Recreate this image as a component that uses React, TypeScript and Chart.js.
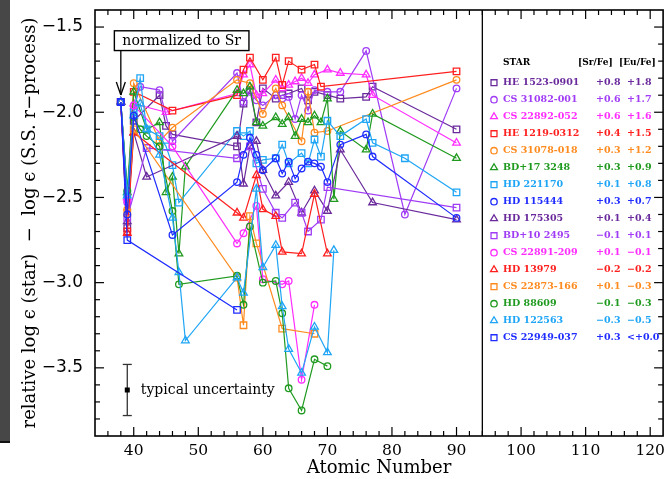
import React, { useEffect, useRef } from 'react';
import { Chart, registerables } from 'chart.js';

Chart.register(...registerables);

// ---------- data ----------
const stars = [
  'HE 1523-0901', 'CS 31082-001', 'CS 22892-052', 'HE 1219-0312', 'CS 31078-018',
  'BD+17 3248', 'HD 221170', 'HD 115444', 'HD 175305', 'BD+10 2495',
  'CS 22891-209', 'HD 13979', 'CS 22873-166', 'HD 88609', 'HD 122563', 'CS 22949-037',
];
const srFe = ['+0.8', '+0.6', '+0.6', '+0.4', '+0.3', '+0.3', '+0.1', '+0.3', '+0.1', '\u22120.1', '+0.1', '\u22120.2', '+0.1', '\u22120.1', '\u22120.3', '+0.3'];
const euFe = ['+1.8', '+1.7', '+1.6', '+1.5', '+1.2', '+0.9', '+0.8', '+0.7', '+0.4', '+0.1', '\u22120.1', '\u22120.2', '\u22120.3', '\u22120.3', '\u22120.5', '<+0.0'];

// [atomic number, relative log eps]
const HE1523_0901 = [[38,-1.94],[39,-2.68],[40,-2.05],[44,-1.9],[45,-2.08],[46,-2.13],[56,-2.2],[57,-1.95],[58,-1.87],[59,-2.06],[60,-1.86],[62,-1.92],[63,-1.9],[64,-1.89],[66,-1.86],[67,-1.93],[68,-1.88],[70,-1.9],[72,-1.92],[76,-1.91],[77,-1.85],[90,-2.1]];
const CS31082_001 = [[38,-1.94],[39,-2.53],[40,-1.98],[41,-1.85],[44,-1.87],[46,-2.17],[56,-1.77],[57,-1.94],[58,-1.88],[59,-1.93],[60,-1.96],[62,-1.9],[63,-1.92],[64,-1.91],[65,-2.04],[66,-1.9],[67,-1.99],[68,-1.87],[70,-1.88],[72,-1.88],[76,-1.64],[82,-2.6],[90,-1.86]];
const CS22892_052 = [[38,-1.94],[39,-2.5],[40,-1.95],[45,-2.0],[56,-1.89],[57,-1.78],[58,-1.72],[59,-1.9],[60,-1.89],[62,-1.81],[63,-1.86],[64,-1.84],[65,-1.82],[66,-1.8],[67,-1.83],[68,-1.78],[70,-1.75],[72,-1.77],[76,-1.78],[77,-1.9],[90,-2.18]];
const HE1219_0312 = [[38,-1.94],[39,-2.7],[40,-1.88],[46,-1.99],[56,-1.9],[57,-1.75],[58,-1.68],[60,-1.81],[62,-1.68],[63,-1.84],[64,-1.7],[66,-1.75],[68,-1.72],[69,-1.85],[90,-1.76]];
const CS31078_018 = [[38,-1.94],[39,-2.57],[40,-1.83],[44,-2.17],[46,-2.09],[56,-1.81],[58,-1.83],[60,-2.01],[62,-1.86],[63,-1.96],[66,-2.17],[67,-1.88],[68,-2.12],[70,-2.11],[90,-1.81]];
const BD17_3248 = [[38,-1.94],[39,-2.47],[40,-1.88],[42,-2.1],[44,-2.06],[45,-2.47],[46,-2.38],[47,-2.83],[48,-2.32],[56,-1.87],[57,-1.89],[58,-1.85],[59,-2.06],[60,-2.08],[62,-2.03],[63,-2.07],[64,-2.03],[65,-2.14],[66,-2.04],[67,-2.06],[68,-2.02],[69,-2.06],[70,-1.92],[71,-2.51],[72,-2.11],[76,-2.22],[77,-2.01],[90,-2.27]];
const HD221170 = [[38,-1.94],[39,-2.48],[40,-2.0],[41,-1.8],[42,-2.1],[44,-2.14],[45,-2.2],[46,-2.31],[47,-2.53],[56,-2.11],[57,-2.14],[58,-2.11],[59,-2.3],[60,-2.28],[62,-2.27],[63,-2.19],[64,-2.3],[66,-2.24],[67,-2.3],[68,-2.16],[69,-2.26],[70,-2.05],[72,-2.14],[76,-2.04],[77,-2.18],[82,-2.27],[90,-2.47]];
const HD115444 = [[38,-1.94],[39,-2.6],[40,-2.02],[46,-2.72],[56,-2.41],[57,-2.25],[58,-2.15],[59,-2.25],[60,-2.34],[62,-2.27],[63,-2.36],[64,-2.29],[65,-2.39],[66,-2.33],[67,-2.29],[68,-2.3],[69,-2.32],[70,-2.41],[72,-2.19],[76,-2.13],[77,-2.26],[90,-2.62]];
const HD175305 = [[38,-1.94],[39,-2.64],[40,-2.12],[42,-2.38],[56,-2.14],[57,-2.42],[58,-2.2],[59,-2.17],[60,-2.34],[62,-2.49],[64,-2.41],[66,-2.59],[68,-2.46],[70,-2.58],[72,-2.22],[77,-2.53],[90,-2.63]];
const BD10_2495 = [[38,-1.94],[39,-2.62],[42,-2.21],[56,-2.27],[58,-2.2],[60,-2.45],[62,-2.59],[63,-2.62],[65,-2.53],[66,-2.59],[67,-2.7],[69,-2.63],[70,-2.44],[90,-2.56]];
const CS22891_209 = [[38,-1.94],[39,-2.52],[40,-1.96],[46,-2.2],[56,-2.77],[57,-2.71],[59,-2.55],[60,-2.98],[63,-3.01],[64,-2.99],[66,-3.57],[68,-3.13]];
const HD13979 = [[38,-1.94],[39,-2.71],[40,-2.12],[56,-2.59],[57,-2.62],[59,-2.37],[60,-2.57],[62,-2.61],[63,-2.82],[66,-2.83],[68,-2.48],[70,-2.83]];
const CS22873_166 = [[38,-1.94],[39,-2.59],[40,-2.1],[56,-2.97],[57,-3.25],[58,-2.61],[59,-2.77],[63,-3.27],[68,-3.3]];
const HD88609 = [[38,-1.94],[39,-2.46],[40,-2.03],[41,-2.1],[42,-2.14],[44,-2.2],[46,-2.58],[47,-3.01],[56,-2.96],[57,-3.13],[58,-2.67],[60,-3.0],[62,-2.99],[63,-3.18],[64,-3.62],[66,-3.75],[68,-3.45],[70,-3.49]];
const HD122563 = [[38,-1.94],[39,-2.49],[40,-2.02],[41,-1.95],[42,-2.1],[44,-2.25],[46,-2.62],[47,-2.94],[48,-3.34],[56,-2.97],[57,-3.06],[59,-2.45],[60,-2.91],[62,-2.78],[63,-3.14],[64,-3.39],[66,-3.53],[68,-3.26],[70,-3.41],[71,-2.81]];
const CS22949_037 = [[38,-1.94],[39,-2.75],[56,-3.16]];

const seriesData = [HE1523_0901, CS31082_001, CS22892_052, HE1219_0312, CS31078_018, BD17_3248, HD221170, HD115444, HD175305, BD10_2495, CS22891_209, HD13979, CS22873_166, HD88609, HD122563, CS22949_037];

const xTickValues = [40, 50, 60, 70, 80, 90, 100, 110, 120];
const yTickValues = [-3.5, -3.0, -2.5, -2.0, -1.5];
const xRange = [34, 122];
const yRange = [-3.9, -1.4];
const dividerZ = 94;
const srZ = 38;
const srValue = -1.94;
const uncertaintyZ = 39;
const uncertaintyCenter = -3.63;
const uncertaintyHalf = 0.15;

// ---------- styles ----------
const C = {
  darkPurple: '#6a2a9c', violet: '#a03cf5', magenta: '#ff2cff', red: '#ff1f1f',
  orange: '#ff8a1e', green: '#1f9a1f', lightBlue: '#1ea5f5', blue: '#1f2cff',
};
const colors = [C.darkPurple, C.violet, C.magenta, C.red, C.orange, C.green, C.lightBlue, C.blue, C.darkPurple, C.violet, C.magenta, C.red, C.orange, C.green, C.lightBlue, C.blue];
const markers = ['rect', 'circle', 'triangle', 'rect', 'circle', 'triangle', 'rect', 'circle', 'triangle', 'rect', 'circle', 'triangle', 'rect', 'circle', 'triangle', 'rect'];
const radiusFor = (m: string) => (m === 'rect' ? 4.6 : m === 'circle' ? 3.3 : 4.4);
// drawing order: later stars on top, HD 115444 topmost (blue circle visible at Sr)
const drawOrder = (i: number) => (i === 7 ? -1 : seriesData.length - i);

const yTitle = 'relative log \u03f5 (star)  \u2212  log \u03f5 (S.S. r\u2212process)';

function drawMarker(ctx: CanvasRenderingContext2D, style: string, x: number, y: number, r: number) {
  ctx.beginPath();
  if (style === 'rect') {
    const s = Math.SQRT1_2 * r;
    ctx.rect(x - s, y - s, 2 * s, 2 * s);
  } else if (style === 'circle') {
    ctx.arc(x, y, r, 0, Math.PI * 2);
  } else {
    let rad = 0;
    ctx.moveTo(x + Math.sin(rad) * r, y - Math.cos(rad) * r);
    rad += (2 * Math.PI) / 3;
    ctx.lineTo(x + Math.sin(rad) * r, y - Math.cos(rad) * r);
    rad += (2 * Math.PI) / 3;
    ctx.lineTo(x + Math.sin(rad) * r, y - Math.cos(rad) * r);
    ctx.closePath();
  }
  ctx.stroke();
}

const framePlugin = {
  id: 'framePlugin',
  afterDatasetsDraw(chart: any) {
    const { ctx, chartArea: a, scales } = chart;
    const xs = scales.x;
    const ys = scales.y;
    ctx.save();
    ctx.strokeStyle = '#000';
    ctx.fillStyle = '#000';
    const seg = (x1: number, y1: number, x2: number, y2: number) => {
      ctx.beginPath();
      ctx.moveTo(x1, y1);
      ctx.lineTo(x2, y2);
      ctx.stroke();
    };
    // ticks
    ctx.lineWidth = 1.2;
    for (let v = xRange[0] + 2; v < xRange[1]; v += 2) {
      const len = v % 10 === 0 ? 9 : 5;
      const px = xs.getPixelForValue(v);
      seg(px, a.bottom, px, a.bottom - len);
      seg(px, a.top, px, a.top + len);
    }
    for (let k = Math.round(yRange[0] * 10) + 1; k < Math.round(yRange[1] * 10); k++) {
      const len = k % 5 === 0 ? 9 : 5;
      const py = ys.getPixelForValue(k / 10);
      seg(a.left, py, a.left + len, py);
      seg(a.right, py, a.right - len, py);
    }
    // frame + divider
    ctx.lineWidth = 1.6;
    ctx.strokeRect(a.left, a.top, a.right - a.left, a.bottom - a.top);
    const dx = xs.getPixelForValue(dividerZ);
    ctx.lineWidth = 1.3;
    seg(dx, a.top, dx, a.bottom);

    // legend
    const mX = a.left + 399;
    const nameX = a.left + 408;
    const srX = a.left + 501;
    const euX = a.left + 532;
    ctx.textBaseline = 'middle';
    ctx.textAlign = 'left';
    ctx.font = 'bold 9px "DejaVu Serif"';
    ctx.fillStyle = '#000';
    ctx.fillText('STAR', nameX, a.top + 53);
    ctx.fillText('[Sr/Fe]', a.left + 483, a.top + 53);
    ctx.fillText('[Eu/Fe]', a.left + 524, a.top + 53);
    ctx.font = 'bold 9.5px "DejaVu Serif"';
    stars.forEach((name, i) => {
      const yy = a.top + 72.7 + i * 17;
      ctx.fillStyle = colors[i];
      ctx.strokeStyle = colors[i];
      ctx.lineWidth = 1.3;
      drawMarker(ctx, markers[i], mX, yy, markers[i] === 'rect' ? 4.2 : markers[i] === 'circle' ? 3.2 : 4.0);
      ctx.fillText(name, nameX, yy);
      ctx.fillText(srFe[i], srX, yy);
      ctx.fillText(euFe[i], euX, yy);
    });

    // "normalized to Sr" box with arrow
    ctx.strokeStyle = '#000';
    ctx.fillStyle = '#000';
    ctx.font = '14px "DejaVu Serif"';
    const label = 'normalized to Sr';
    const tw = ctx.measureText(label).width;
    const boxL = xs.getPixelForValue(37);
    const boxT = ys.getPixelForValue(-1.522);
    const boxB = ys.getPixelForValue(-1.638);
    ctx.fillStyle = '#fff';
    ctx.fillRect(boxL, boxT, tw + 16, boxB - boxT);
    ctx.lineWidth = 1.4;
    ctx.strokeRect(boxL, boxT, tw + 16, boxB - boxT);
    ctx.fillStyle = '#000';
    ctx.fillText(label, boxL + 8, (boxT + boxB) / 2 + 0.5);
    const ax = xs.getPixelForValue(srZ);
    const tipY = ys.getPixelForValue(srValue) - 7;
    ctx.lineWidth = 1.3;
    seg(ax, boxB, ax, tipY);
    seg(ax - 4.5, tipY - 13, ax, tipY);
    seg(ax + 4.5, tipY - 13, ax, tipY);

    // typical uncertainty
    const ux = xs.getPixelForValue(uncertaintyZ);
    const uTop = ys.getPixelForValue(uncertaintyCenter + uncertaintyHalf);
    const uBot = ys.getPixelForValue(uncertaintyCenter - uncertaintyHalf);
    const uMid = ys.getPixelForValue(uncertaintyCenter);
    ctx.strokeStyle = '#333';
    ctx.lineWidth = 1.3;
    seg(ux, uTop, ux, uBot);
    seg(ux - 4.5, uTop, ux + 4.5, uTop);
    seg(ux - 4.5, uBot, ux + 4.5, uBot);
    ctx.fillStyle = '#000';
    ctx.fillRect(ux - 2.5, uMid - 2.5, 5, 5);
    ctx.fillText('typical uncertainty', xs.getPixelForValue(41.1), uMid);
    ctx.restore();
  },
};

export default function App() {
  const ref = useRef<HTMLCanvasElement | null>(null);
  useEffect(() => {
    if (!ref.current) return;
    Chart.defaults.font.family = '"DejaVu Serif"';
    const chart = new Chart(ref.current, {
      type: 'scatter',
      data: {
        datasets: seriesData.map((d, i) => ({
          label: stars[i],
          data: d.map(([z, v]) => ({ x: z, y: v })),
          order: drawOrder(i),
          showLine: true,
          borderColor: colors[i],
          backgroundColor: 'rgba(0,0,0,0)',
          borderWidth: 1.2,
          pointStyle: markers[i] as any,
          pointRadius: radiusFor(markers[i]),
          pointBorderWidth: 1.3,
          pointBorderColor: colors[i],
          pointBackgroundColor: 'rgba(0,0,0,0)',
        })),
      },
      options: {
        responsive: false,
        animation: false,
        events: [],
        layout: { padding: { left: 0, right: 4, top: 10, bottom: 0 } },
        plugins: { legend: { display: false }, tooltip: { enabled: false } },
        scales: {
          x: {
            type: 'linear',
            min: xRange[0],
            max: xRange[1],
            afterBuildTicks: (s: any) => { s.ticks = xTickValues.map((v) => ({ value: v })); },
            afterFit: (s: any) => { s.height = 43; s.paddingLeft = 0; s.paddingRight = 0; },
            grid: { display: false, drawTicks: false },
            border: { display: false },
            ticks: { color: '#000', font: { family: '"DejaVu Serif"', size: 15.5 }, padding: 6, maxRotation: 0, autoSkip: false },
            title: { display: true, text: 'Atomic Number', color: '#000', font: { family: '"DejaVu Serif"', size: 18 }, padding: { top: 0, bottom: 0 } },
          },
          y: {
            type: 'linear',
            min: yRange[0],
            max: yRange[1],
            afterBuildTicks: (s: any) => { s.ticks = yTickValues.map((v) => ({ value: v })); },
            afterFit: (s: any) => { s.width = 95; s.paddingTop = 0; s.paddingBottom = 0; },
            grid: { display: false, drawTicks: false },
            border: { display: false },
            ticks: {
              color: '#000',
              font: { family: '"DejaVu Sans"', size: 17 },
              padding: 12,
              callback: (v: any) => '\u2212' + Math.abs(Number(v)).toFixed(1),
            },
            title: { display: true, text: yTitle, color: '#000', font: { family: '"DejaVu Serif"', size: 18 }, padding: { top: 20, bottom: 0 } },
          },
        },
      },
      plugins: [framePlugin],
    });
    return () => chart.destroy();
  }, []);

  return (
    <div style={{ position: 'absolute', left: 0, top: 0, width: 669, height: 479, background: '#fff', overflow: 'hidden' }}>
      <canvas ref={ref} width={669} height={479} style={{ display: 'block', width: 669, height: 479 }} />
      <div style={{ position: 'absolute', left: 0, top: 0, width: 10, height: 441, background: '#474747', borderBottom: '2px solid #111' }} />
    </div>
  );
}
